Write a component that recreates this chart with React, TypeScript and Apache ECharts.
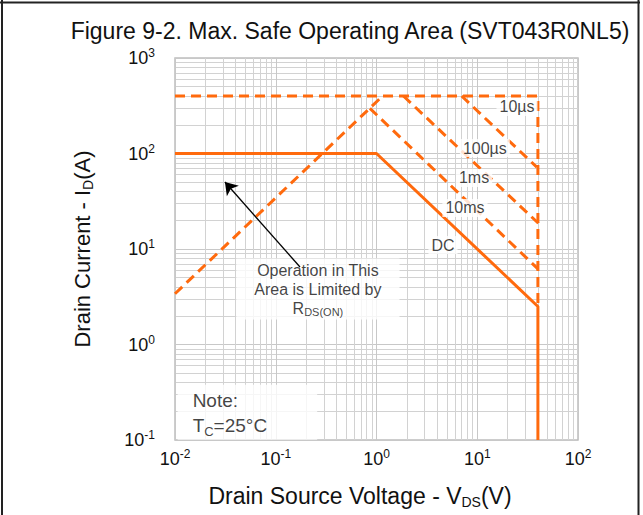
import React, { useEffect, useRef } from "react";
import * as echarts from "echarts";

// Axis ranges (log scale)
const X_MIN = 0.01;
const X_MAX = 100;
const Y_MIN = 0.1;
const Y_MAX = 1000;

// SOA boundary curves: [V_DS (V), I_D (A)]
const rdsLimit = [[0.01, 3.4], [1.15, 400]];
const pulse10us = [[0.01, 400], [40, 400], [40, 2.5]];
const pulse100us = [[7.0, 400], [39, 72]];
const pulse1ms = [[1.85, 400], [40.4, 18.6]];
const pulse10ms = [[0.86, 297], [40, 6.2]];
const dcLimit = [[0.01, 100], [1, 100], [40, 2.5], [40, 0.1]];

// Curve labels placed at data coordinates
const curveLabelNames = ["10µs", "100µs", "1ms", "10ms", "DC"];
const curveLabelAt = [[24.8, 307], [11.9, 114], [9.3, 55.4], [7.55, 26.9], [4.57, 11.0]];

// Annotation anchors (data coordinates)
const arrowFrom = [0.174, 6.48];
const arrowTo = [0.0313, 50.3];
const rdsNoteAt = [0.262, 3.81];
const tempNoteAt = [0.0105, 0.195];

const TITLE = "Figure 9-2. Max. Safe Operating Area (SVT043R0NL5)";
const ORANGE = "#ff6a0d";
const FONT = "'Liberation Sans', Arial, sans-serif";

const powLabel = (v: number) => {
  const e = Math.round(Math.log10(v));
  return `{b|10}{s|${e}}`;
};
const powRich = {
  b: { fontSize: 18, color: "#111", fontFamily: FONT, lineHeight: 22 },
  s: { fontSize: 12, color: "#111", fontFamily: FONT, lineHeight: 12, verticalAlign: "top" as const },
};

export default function App() {
  const ref = useRef<HTMLDivElement>(null);
  useEffect(() => {
    if (!ref.current) return;
    const chart = echarts.init(ref.current, undefined, { renderer: "svg" });
    const dashed = { color: ORANGE, width: 3, type: [10, 6] as number[] };
    const solid = { color: ORANGE, width: 3, type: "solid" as const };
    const lineSeries = (name: string, data: number[][], style: any) => ({
      name,
      type: "line",
      data,
      symbol: "none",
      lineStyle: style,
      z: 2,
      silent: true,
    });
    chart.setOption({
      animation: false,
      textStyle: { fontFamily: FONT },
      grid: {
        left: 175,
        right: 65,
        top: 58,
        bottom: 75,
        show: true,
        borderColor: "#bdbdbd",
        borderWidth: 1.5,
      },
      xAxis: {
        type: "log",
        logBase: 10,
        min: X_MIN,
        max: X_MAX,
        axisLine: { show: false },
        axisTick: { show: false },
        minorTick: { show: false, splitNumber: 9 },
        splitLine: { show: true, lineStyle: { color: "#c8c8c8", width: 1 } },
        minorSplitLine: { show: true, lineStyle: { color: "#d2d2d2", width: 1 } },
        axisLabel: { margin: 8, formatter: powLabel, rich: powRich },
      },
      yAxis: {
        type: "log",
        logBase: 10,
        min: Y_MIN,
        max: Y_MAX,
        axisLine: { show: false },
        axisTick: { show: false },
        minorTick: { show: false, splitNumber: 9 },
        splitLine: { show: true, lineStyle: { color: "#c8c8c8", width: 1 } },
        minorSplitLine: { show: true, lineStyle: { color: "#d2d2d2", width: 1 } },
        axisLabel: { margin: 20, formatter: powLabel, rich: powRich },
      },
      series: [
        lineSeries("RDS(on) limit", rdsLimit, dashed),
        lineSeries("10µs", pulse10us, dashed),
        lineSeries("100µs", pulse100us, dashed),
        lineSeries("1ms", pulse1ms, dashed),
        lineSeries("10ms", pulse10ms, dashed),
        lineSeries("DC", dcLimit, solid),
        {
          name: "curve labels",
          type: "scatter",
          z: 4,
          silent: true,
          symbolSize: 1,
          itemStyle: { color: "rgba(0,0,0,0)" },
          data: curveLabelNames.map((n, i) => ({ name: n, value: curveLabelAt[i] })),
          label: {
            show: true,
            position: "inside",
            formatter: "{b}",
            fontSize: 16,
            color: "#111",
            backgroundColor: "#fff",
            padding: [1, 3],
          },
        },
        {
          name: "notes",
          type: "scatter",
          z: 4,
          silent: true,
          symbolSize: 1,
          itemStyle: { color: "rgba(0,0,0,0)" },
          data: [
            {
              value: rdsNoteAt,
              label: {
                position: "inside",
                formatter: "{t|Operation in This}\n{t|Area is Limited by}\n{t|R}{sub|DS(ON)}",
                align: "center",
                padding: [2, 18],
                rich: {
                  t: { fontSize: 16, lineHeight: 19, color: "#111", align: "center" },
                  sub: { fontSize: 11, lineHeight: 12, color: "#111", verticalAlign: "bottom" },
                },
              },
            },
            {
              value: tempNoteAt,
              label: {
                position: "right",
                distance: 0,
                formatter: "{t|Note:}\n{t|T}{sub|C}{t|=25°C}",
                align: "left",
                padding: [3, 50, 2, 15],
                rich: {
                  t: { fontSize: 19, lineHeight: 25, color: "#111" },
                  sub: { fontSize: 13, lineHeight: 14, color: "#111", verticalAlign: "bottom" },
                },
              },
            },
          ],
          label: {
            show: true,
            backgroundColor: "#fff",
          },
        },
        {
          name: "arrow",
          type: "line",
          data: [],
          z: 6,
          silent: true,
          markLine: {
            silent: true,
            symbol: ["none", "arrow"],
            symbolSize: 12,
            label: { show: false },
            lineStyle: { color: "#000", width: 1.3, type: "solid" },
            data: [[{ coord: arrowFrom }, { coord: arrowTo }]],
          },
        },
      ],
      graphic: [
        {
          type: "text",
          x: 350,
          y: 31,
          style: {
            text: TITLE,
            fontSize: 23,
            fontFamily: FONT,
            fill: "#111",
            align: "center",
            verticalAlign: "middle",
          },
        },
        {
          type: "text",
          x: 82,
          y: 249,
          rotation: Math.PI / 2,
          style: {
            text: "{m|Drain Current - I}{sub|D}{m|(A)}",
            rich: {
              m: { fontSize: 22, fontFamily: FONT, fill: "#111", lineHeight: 26 },
              sub: { fontSize: 14, fontFamily: FONT, fill: "#111", lineHeight: 14, verticalAlign: "bottom" },
            },
            align: "center",
            verticalAlign: "middle",
          },
        },
        {
          type: "text",
          x: 360,
          y: 496,
          style: {
            text: "{m|Drain Source Voltage - V}{sub|DS}{m|(V)}",
            rich: {
              m: { fontSize: 23, fontFamily: FONT, fill: "#111", lineHeight: 26 },
              sub: { fontSize: 14, fontFamily: FONT, fill: "#111", lineHeight: 14, verticalAlign: "bottom" },
            },
            align: "center",
            verticalAlign: "middle",
          },
        },
        { type: "line", shape: { x1: 2, y1: 0, x2: 2, y2: 515 }, style: { stroke: "#222", lineWidth: 2 } },
        { type: "line", shape: { x1: 0, y1: 2.5, x2: 640, y2: 2.5 }, style: { stroke: "#222", lineWidth: 2 } },
        { type: "line", shape: { x1: 638.5, y1: 0, x2: 638.5, y2: 515 }, style: { stroke: "#222", lineWidth: 2 } },
      ],
    });
    return () => chart.dispose();
  }, []);
  return (
    <div
      ref={ref}
      style={{ position: "fixed", left: 0, top: 0, width: 643, height: 515, background: "#fff" }}
    />
  );
}
